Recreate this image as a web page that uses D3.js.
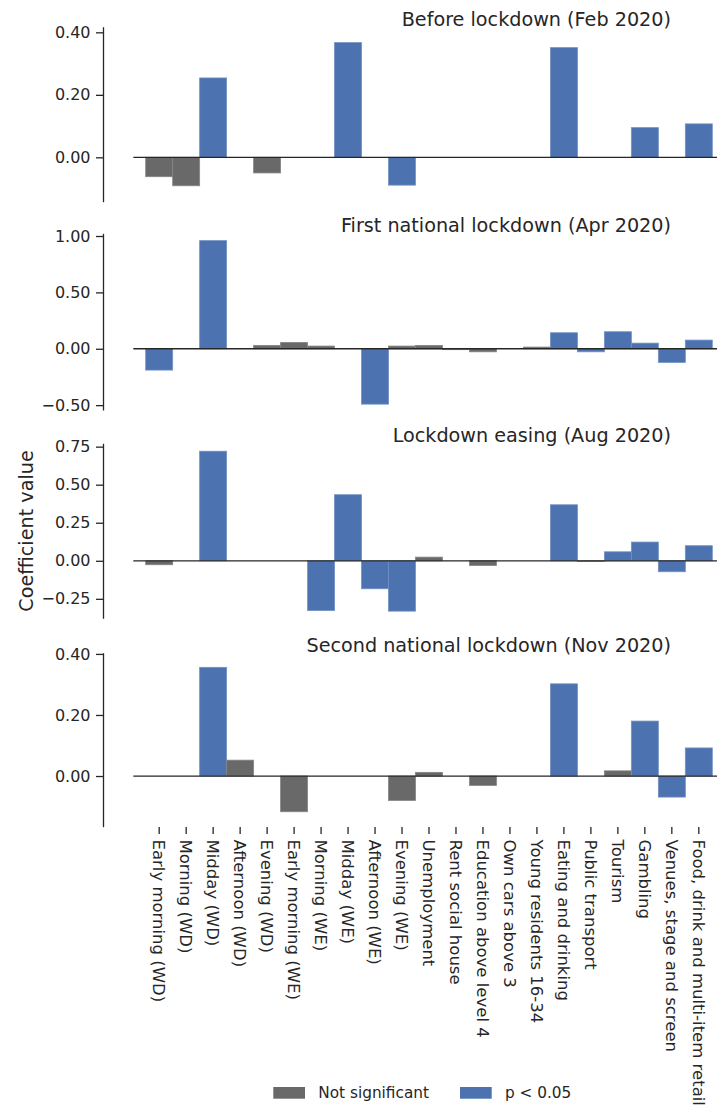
<!DOCTYPE html>
<html>
<head>
<meta charset="utf-8">
<script src="https://cdn.jsdelivr.net/npm/d3@7/dist/d3.min.js"></script>
<style>
  html, body { margin: 0; padding: 0; background: #ffffff; }
  svg { display: block; font-family: "DejaVu Sans", sans-serif; }
</style>
</head>
<body>
<svg id="chart" width="717" height="1108"></svg>
<script>
// Model terms shown along the shared x axis
const categories = [
  "Early morning (WD)", "Morning (WD)", "Midday (WD)", "Afternoon (WD)", "Evening (WD)",
  "Early morning (WE)", "Morning (WE)", "Midday (WE)", "Afternoon (WE)", "Evening (WE)",
  "Unemployment", "Rent social house", "Education above level 4", "Own cars above 3",
  "Young residents 16-34", "Eating and drinking", "Public transport", "Tourism",
  "Gambling", "Venues, stage and screen", "Food, drink and multi-item retail"
];

// Period titles, one per panel
const periods = [
  "Before lockdown (Feb 2020)",
  "First national lockdown (Apr 2020)",
  "Lockdown easing (Aug 2020)",
  "Second national lockdown (Nov 2020)"
];

// Coefficients per period (null = term not in that model)
const coefFeb = [-0.062, -0.091, 0.254, null, -0.050, null, null, 0.367, null, -0.089,
                 null, null, null, null, null, 0.351, null, null, 0.095, null, 0.107];
const coefApr = [-0.189, null, 0.959, null, 0.030, 0.056, 0.024, null, -0.491, 0.024,
                 0.030, -0.008, -0.027, null, 0.015, 0.142, -0.027, 0.151, 0.050, -0.121, 0.077];
const coefAug = [-0.026, null, 0.720, null, null, null, -0.327, 0.434, -0.184, -0.331,
                 0.024, null, -0.031, null, null, 0.368, -0.005, 0.059, 0.123, -0.072, 0.099];
const coefNov = [null, null, 0.356, 0.052, null, -0.117, null, null, null, -0.080,
                 0.012, null, -0.031, null, null, 0.302, null, 0.017, 0.180, -0.069, 0.092];

// Significance flags (1 = p < 0.05, 0 = not significant)
const sigFeb = [0, 0, 1, 0, 0, 0, 0, 1, 0, 1, 0, 0, 0, 0, 0, 1, 0, 0, 1, 0, 1];
const sigApr = [1, 0, 1, 0, 0, 0, 0, 0, 1, 0, 0, 0, 0, 0, 0, 1, 1, 1, 1, 1, 1];
const sigAug = [0, 0, 1, 0, 0, 0, 1, 1, 1, 1, 0, 0, 0, 0, 0, 1, 0, 1, 1, 1, 1];
const sigNov = [0, 0, 1, 0, 0, 0, 0, 0, 0, 0, 0, 0, 0, 0, 0, 1, 0, 0, 1, 1, 1];

// Y tick values per panel
const ticksFeb = [0, 0.2, 0.4];
const ticksApr = [-0.5, 0, 0.5, 1.0];
const ticksAug = [-0.25, 0, 0.25, 0.5, 0.75];
const ticksNov = [0, 0.2, 0.4];

const legendLabels = ["Not significant", "p < 0.05"];

// ---- layout ----
const svg = d3.select("#chart");
const ink = "#262626";
const colors = { 0: "#696969", 1: "#4c72b0" };
const edges = { 0: "#858585", 1: "#7290c4" };

const coefs = [coefFeb, coefApr, coefAug, coefNov];
const sigs = [sigFeb, sigApr, sigAug, sigNov];
const ticks = [ticksFeb, ticksApr, ticksAug, ticksNov];

const panelTop = [26.7, 233.3, 443.3, 652.7];
const panelBottom = [201.7, 410, 618.3, 826.7];
const yDomains = [[-0.142, 0.418], [-0.543, 1.024], [-0.378, 0.772], [-0.166, 0.404]];
const spineX = 103;
const axesLeft = 133.3;
const axesRight = 717;

const x = d3.scaleBand().domain(categories).range([145.7, 712.3]).padding(0);
const fmt = d3.format(".2f");

periods.forEach((title, p) => {
  const y = d3.scaleLinear().domain(yDomains[p]).range([panelBottom[p], panelTop[p]]);
  const g = svg.append("g");

  const rows = categories.map((c, i) => ({ c, v: coefs[p][i], s: sigs[p][i] }))
    .filter(d => d.v !== null);

  g.selectAll("rect.bar").data(rows).enter().append("rect")
    .attr("class", "bar")
    .attr("x", d => x(d.c))
    .attr("width", x.bandwidth())
    .attr("y", d => y(Math.max(0, d.v)))
    .attr("height", d => Math.abs(y(d.v) - y(0)))
    .attr("fill", d => colors[d.s])
    .attr("stroke", d => edges[d.s])
    .attr("stroke-width", 0.8);

  // zero reference line
  g.append("line")
    .attr("x1", axesLeft).attr("x2", axesRight)
    .attr("y1", y(0)).attr("y2", y(0))
    .attr("stroke", ink).attr("stroke-width", 1.3);

  // left axis, offset from the plotting area
  const ax = g.append("g")
    .attr("transform", `translate(${spineX},0)`)
    .call(d3.axisLeft(y).tickValues(ticks[p]).tickFormat(fmt)
      .tickSize(7).tickSizeOuter(0).tickPadding(5.5));
  ax.select(".domain").attr("stroke", ink).attr("stroke-width", 1.3);
  ax.selectAll(".tick line").attr("stroke", ink).attr("stroke-width", 1.3);
  ax.selectAll(".tick text")
    .attr("fill", ink).style("font-size", "16px")
    .style("font-family", "DejaVu Sans, sans-serif");

  g.append("text")
    .attr("x", 671).attr("y", panelTop[p] - 1)
    .attr("text-anchor", "end")
    .attr("fill", ink)
    .style("font-size", "19.2px")
    .text(title);
});

// shared x tick marks and rotated labels under the last panel
const xg = svg.append("g");
const xt = xg.selectAll("g.xt").data(categories).enter().append("g")
  .attr("class", "xt")
  .attr("transform", d => `translate(${x(d) + x.bandwidth() / 2},0)`);
xt.append("line")
  .attr("y1", 827).attr("y2", 834)
  .attr("stroke", ink).attr("stroke-width", 1.3);
xt.append("text")
  .attr("transform", "translate(0,839.5) rotate(90)")
  .attr("dy", "0.35em")
  .attr("fill", ink)
  .style("font-size", "16.5px")
  .text(d => d);

// y axis title
svg.append("text")
  .attr("transform", "translate(33,531) rotate(-90)")
  .attr("text-anchor", "middle")
  .attr("fill", ink)
  .style("font-size", "19.2px")
  .text("Coefficient value");

// legend
const lg = svg.append("g");
const legendX = [273.3, 460];
legendLabels.forEach((lab, i) => {
  lg.append("rect")
    .attr("x", legendX[i]).attr("y", 1087)
    .attr("width", 31.7).attr("height", 11.7)
    .attr("fill", colors[i]);
  lg.append("text")
    .attr("x", legendX[i] + 45).attr("y", 1098)
    .attr("fill", ink)
    .style("font-size", "15.3px")
    .text(lab);
});
</script>
</body>
</html>
